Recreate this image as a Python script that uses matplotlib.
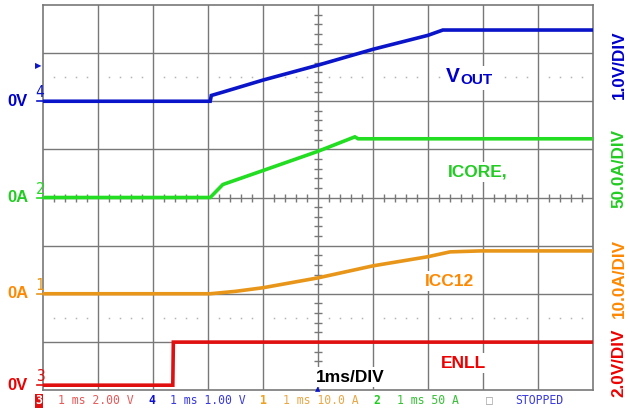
import numpy as np
import matplotlib.pyplot as plt

# === Scope setup ===
W, H = 629, 408
DIV_X, DIV_Y = 10, 8

# === Traces (time in ms, values in channel units) ===
# ch4 VOUT, 1.0 V/div, 0V at +2.0 div
vout_t = [0.0, 3.04, 3.06, 3.27, 4.0, 5.0, 6.0, 7.0, 7.27, 10.0]
vout_v = [0.0, 0.0, 0.12, 0.19, 0.44, 0.75, 1.08, 1.37, 1.48, 1.48]

# ch2 ICORE, 50 A/div, 0A at 0 div
icore_t = [0.0, 3.04, 3.27, 4.0, 5.0, 5.67, 5.73, 10.0]
icore_i = [0.0, 0.0, 13.5, 28.0, 48.0, 63.0, 61.0, 61.0]

# ch1 ICC12, 10 A/div, 0A at -2.0 div
icc12_t = [0.0, 3.04, 3.5, 4.0, 5.0, 6.0, 7.0, 7.4, 7.95, 10.0]
icc12_i = [0.0, 0.0, 0.5, 1.25, 3.3, 5.8, 7.7, 8.7, 8.9, 8.9]

# ch3 ENLL, 2.0 V/div, 0V at -3.9 div
enll_t = [0.0, 2.36, 2.37, 10.0]
enll_v = [0.0, 0.0, 1.79, 1.79]

channels = [
    # t, values, scale per div, offset div, color, marker digit, unit label
    (vout_t, vout_v, 1.0, 2.0, "#0a14c8", "4", "0V"),
    (icore_t, icore_i, 50.0, 0.0, "#22dd22", "2", "0A"),
    (icc12_t, icc12_i, 10.0, -2.0, "#e8961a", "1", "0A"),
    (enll_t, enll_v, 2.0, -3.9, "#e01010", "3", "0V"),
]
label_colors = ["#0000cc", "#22cc22", "#ff8800", "#ee0000"]

bold = dict(family="Liberation Sans", weight="bold")


def fpx(x, y):
    return x / W, 1 - y / H


fig = plt.figure(figsize=(W / 100, H / 100), dpi=100)
fig.patch.set_facecolor("white")
ax = fig.add_axes([43 / W, 18 / H, 550 / W, 385 / H])
ax.set_xlim(0, DIV_X)
ax.set_ylim(-DIV_Y / 2, DIV_Y / 2)
ax.set_xticks([])
ax.set_yticks([])
for s in ax.spines.values():
    s.set_color("#787878")
    s.set_linewidth(1.2)

grid_c = "#787878"
for i in range(1, DIV_X):
    ax.axvline(i, color=grid_c, lw=1.0, zorder=1)
for j in range(-3, 4):
    ax.axhline(j, color=grid_c, lw=1.0, zorder=1)

# minor ticks on the center cross
minor_x = [k * 0.2 for k in range(51) if k % 5]
minor_y = [-4 + k * 0.2 for k in range(41) if k % 5]
ax.plot(minor_x, [0] * len(minor_x), "|", color=grid_c, ms=5.5, mew=1.0, zorder=1)
ax.plot([5] * len(minor_y), minor_y, "_", color=grid_c, ms=5.5, mew=1.0, zorder=1)

# dotted rise-time lines
for yy in (2.5, -2.5):
    ax.plot(minor_x, [yy] * len(minor_x), "s", color="#b4b4b4", ms=1.1, mew=0, zorder=1)

# === Traces ===
for (t, v, sc, off, col, dig, lab), lc in zip(channels, label_colors):
    y = np.array(v) / sc + off
    ax.plot(t, y, color=col, lw=2.6, solid_joinstyle="miter", zorder=3)
    ypx = 197.5 - off * 48.1
    fig.add_artist(plt.Line2D([37 / W, 43 / W], [1 - ypx / H] * 2, color=col, lw=1.2))
    fig.text(*fpx(40, ypx - 1), dig, color=col, fontsize=10.5, ha="center", va="bottom",
             family="DejaVu Sans Mono")
    fig.text(*fpx(18, ypx), lab, color=lc, fontsize=12, ha="center", va="center", **bold)

# trigger markers
fig.text(*fpx(38, 66), "\u25b6", color="#0a14c8", fontsize=6, ha="center", va="center")
fig.text(*fpx(318, 389), "\u25b2", color="#0a14c8", fontsize=5, ha="center", va="center")

# === Trace labels ===
box = dict(facecolor="white", edgecolor="none", pad=2)
fig.text(*fpx(444, 78), "          ", fontsize=13, ha="left", va="center", bbox=box)
fig.text(*fpx(446, 76), "V", color="#0000cc", fontsize=15, ha="left", va="center", **bold)
fig.text(*fpx(460, 80), "OUT", color="#0000cc", fontsize=11, ha="left", va="center", **bold)
fig.text(*fpx(448, 172), "ICORE,", color="#22cc22", fontsize=12.5, ha="left", va="center",
         bbox=box, **bold)
fig.text(*fpx(425, 281), "ICC12", color="#ff8800", fontsize=12.5, ha="left", va="center",
         bbox=box, **bold)
fig.text(*fpx(441, 363), "ENLL", color="#ee0000", fontsize=12.5, ha="left", va="center",
         bbox=box, **bold)
fig.text(*fpx(350, 377), "1ms/DIV", color="black", fontsize=12.5, ha="center", va="center",
         bbox=box, **bold)

# === Right side scale labels ===
right_labels = ["1.0V/DIV", "50.0A/DIV", "10.0A/DIV", "2.0V/DIV"]
right_y = [65, 168, 278, 363]
for txt, yy, lc in zip(right_labels, right_y, label_colors):
    fig.text(*fpx(619, yy), txt, color=lc, fontsize=12.3, rotation=90, ha="center",
             va="center", **bold)

# === Status bar ===
mono = dict(family="DejaVu Sans Mono", fontsize=8.3, va="center")
sy = 1 - 401 / H
fig.text(39 / W, sy, "3", color="white", ha="center", fontweight="bold",
         bbox=dict(facecolor="#e01010", edgecolor="none", pad=0.6), **mono)
status = [
    (58, "1 ms 2.00 V", "#e85a5a"),
    (148, "4", "#1010d0"),
    (170, "1 ms 1.00 V", "#3a3ae0"),
    (260, "1", "#f0a020"),
    (283, "1 ms 10.0 A", "#e8a848"),
    (373, "2", "#20cc20"),
    (397, "1 ms 50 A", "#38c038"),
    (486, "\u25a1", "#a0a0a0"),
    (515, "STOPPED", "#3a3ae0"),
]
for x, txt, c in status:
    fw = "bold" if txt in ("4", "1", "2") else "normal"
    fig.text(x / W, sy, txt, color=c, ha="left", fontweight=fw, **mono)

fig.savefig("out.png", dpi=100)
